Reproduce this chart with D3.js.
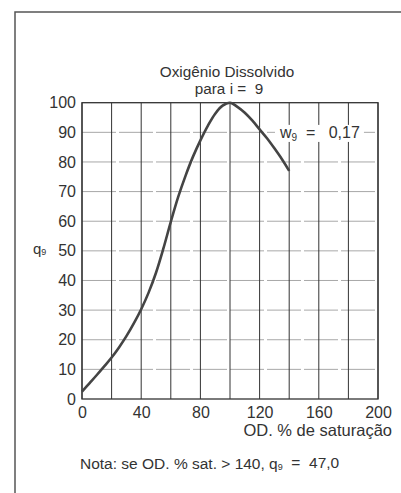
<!DOCTYPE html>
<html>
<head>
<meta charset="utf-8">
<script src="https://cdn.jsdelivr.net/npm/d3@7"></script>
<style>
  body { margin: 0; background: #fff; }
  svg { display: block; font-family: "Liberation Sans", Arial, sans-serif; }
</style>
</head>
<body>
<svg id="chart"></svg>
<script>
// curve (OD % saturation -> q9)
const odValues = [0, 5, 10, 15, 20, 25, 30, 35, 40, 45, 50, 55, 60, 65, 70, 75, 80, 85, 90, 95, 100, 105, 110, 115, 120, 125, 130, 135, 140];
const q9Values = [2.5, 5.3, 8.1, 11, 14, 17.4, 21.2, 25.5, 30.3, 35.9, 42.6, 50.8, 59.8, 68.2, 75.4, 81.8, 87.3, 92.2, 96.3, 99, 100, 98.6, 96.6, 94, 91, 88, 84.6, 81, 77];

const xTicks = [0, 40, 80, 120, 160, 200];
const xGrid = [0, 20, 40, 60, 80, 100, 120, 140, 160, 180, 200];
const yTicks = [0, 10, 20, 30, 40, 50, 60, 70, 80, 90, 100];

const width = 401, height = 493;
const margin = { top: 102.7, right: 23, bottom: 94, left: 82 };

const svg = d3.select("#chart")
    .attr("width", width)
    .attr("height", height);

const x = d3.scaleLinear().domain([0, 200]).range([margin.left, width - margin.right]);
const y = d3.scaleLinear().domain([0, 100]).range([height - margin.bottom, margin.top]);

// outer frame of the figure (top and left only)
svg.append("path")
    .attr("d", `M15,${height} L15,12 L${width},12`)
    .attr("fill", "none")
    .attr("stroke", "#555")
    .attr("stroke-width", 1.5);

// horizontal grid (light grey)
svg.append("g")
    .selectAll("line")
    .data(yTicks.slice(1, -1))
    .join("line")
    .attr("x1", x(0)).attr("x2", x(200))
    .attr("y1", d => y(d)).attr("y2", d => y(d))
    .attr("stroke", "#a8a8a8")
    .attr("stroke-width", 1)
    .attr("stroke-dasharray", "34,3");

// vertical grid (dark)
svg.append("g")
    .selectAll("line")
    .data(xGrid)
    .join("line")
    .attr("x1", d => x(d)).attr("x2", d => x(d))
    .attr("y1", y(0)).attr("y2", y(100))
    .attr("stroke", "#333")
    .attr("stroke-width", 1);

// plot border
svg.append("rect")
    .attr("x", x(0)).attr("y", y(100))
    .attr("width", x(200) - x(0)).attr("height", y(0) - y(100))
    .attr("fill", "none")
    .attr("stroke", "#333")
    .attr("stroke-width", 1.3);

// w9 label with white backing over the grid
const wBack = svg.append("rect").attr("fill", "#fff");
const wLabel = svg.append("text")
    .attr("x", 280)
    .attr("y", y(90))
    .attr("dy", "0.35em")
    .attr("font-size", 16)
    .attr("fill", "#333")
    .attr("xml:space", "preserve");
wLabel.append("tspan").text("w");
wLabel.append("tspan").attr("font-size", 10).attr("dy", "0.3em").text("9");
wLabel.append("tspan").attr("dy", "-0.19em").text("  =   0,17");
const bb = wLabel.node().getBBox();
wBack.attr("x", bb.x - 4).attr("y", bb.y + 1)
    .attr("width", bb.width + 8).attr("height", bb.height - 2);

// the curve
const line = d3.line()
    .x((d, i) => x(odValues[i]))
    .y(d => y(d))
    .curve(d3.curveCatmullRom.alpha(0.5));

svg.append("path")
    .attr("d", line(q9Values))
    .attr("fill", "none")
    .attr("stroke", "#444")
    .attr("stroke-width", 2.6)
    .attr("stroke-linejoin", "round");

// axes: labels only
const yAxis = svg.append("g")
    .attr("transform", `translate(${x(0)},0)`)
    .call(d3.axisLeft(y).tickValues(yTicks).tickSize(0).tickPadding(6));
yAxis.select(".domain").remove();
yAxis.selectAll(".tick text")
    .attr("font-size", 16)
    .attr("font-family", "Liberation Sans, Arial, sans-serif")
    .attr("fill", "#333");

const xAxis = svg.append("g")
    .attr("transform", `translate(0,${y(0)})`)
    .call(d3.axisBottom(x).tickValues(xTicks).tickSize(0).tickPadding(8));
xAxis.select(".domain").remove();
xAxis.selectAll(".tick text")
    .attr("font-size", 16)
    .attr("font-family", "Liberation Sans, Arial, sans-serif")
    .attr("fill", "#333");

// title
svg.append("text")
    .attr("x", 227).attr("y", 77)
    .attr("text-anchor", "middle")
    .attr("font-size", 15.3)
    .attr("fill", "#333")
    .text("Oxigênio Dissolvido");
svg.append("text")
    .attr("x", 229).attr("y", 94)
    .attr("text-anchor", "middle")
    .attr("font-size", 15.3)
    .attr("fill", "#333")
    .attr("xml:space", "preserve")
    .text("para i =  9");

// y label q9
const qLabel = svg.append("text")
    .attr("x", 33).attr("y", y(50))
    .attr("dy", "0.2em")
    .attr("font-size", 15)
    .attr("fill", "#333");
qLabel.append("tspan").text("q");
qLabel.append("tspan").attr("font-size", 9).attr("dy", "0.1em").text("9");

// x label
svg.append("text")
    .attr("x", 392).attr("y", 436)
    .attr("text-anchor", "end")
    .attr("font-size", 16.5)
    .attr("fill", "#333")
    .text("OD. % de saturação");

// note
const note = svg.append("text")
    .attr("x", 80).attr("y", 469)
    .attr("font-size", 15.5)
    .attr("fill", "#333")
    .attr("xml:space", "preserve");
note.append("tspan").text("Nota: se OD. % sat. > 140, q");
note.append("tspan").attr("font-size", 9).attr("dy", "0.15em").text("9");
note.append("tspan").attr("dy", "-0.15em").text("  =  47,0");
</script>
</body>
</html>
